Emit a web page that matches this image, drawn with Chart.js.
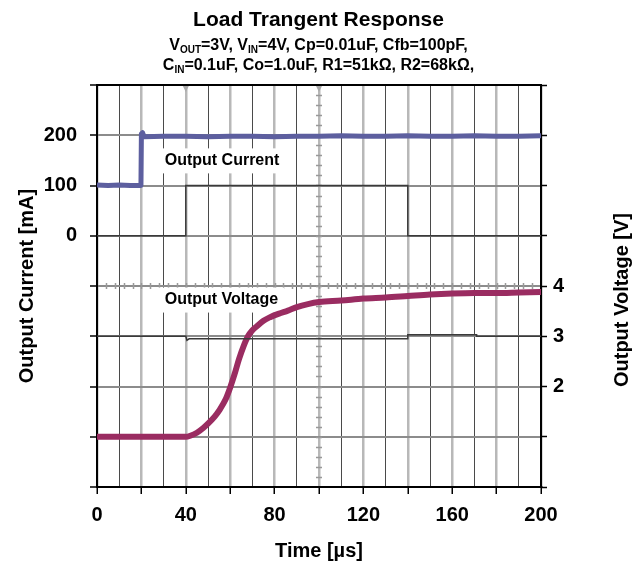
<!DOCTYPE html>
<html>
<head>
<meta charset="utf-8">
<script src="https://cdn.jsdelivr.net/npm/chart.js@4.4.1/dist/chart.umd.min.js"></script>
<style>
    html, body { margin: 0; padding: 0; background: #fff; }
    #wrap { position: relative; width: 637px; height: 567px; font-family: 'Liberation Sans', Arial, sans-serif; font-weight: bold; color: #000; }
    #chartBox { position: absolute; left: 0; top: 0; width: 637px; height: 567px; }
    .head { position: absolute; left: 0; width: 637px; text-align: center; white-space: nowrap; }
    #title { top: 7px; font-size: 21px; line-height: 24px; }
    .sub { font-size: 16px; line-height: 20px; }
    .sub span.s { font-size: 10px; position: relative; top: 3px; }
</style>
</head>
<body>
<div id="wrap">
    <div id="chartBox"><canvas id="chart"></canvas></div>
    <div id="title" class="head">Load Trangent Response</div>
    <div class="head sub" style="top:35px">V<span class="s">OUT</span>=3V, V<span class="s">IN</span>=4V, Cp=0.01uF, Cfb=100pF,</div>
    <div class="head sub" style="top:55px">C<span class="s">IN</span>=0.1uF, Co=1.0uF, R1=51kΩ, R2=68kΩ,</div>
</div>
<script>
// ============================================================
// LOAD TRANSIENT - scope capture redrawn with Chart.js
// ============================================================

// Output current trace (time in µs, current in mA)
const currentTime = [0, 5, 10, 15, 19.8, 20, 20.5, 21.2, 30, 40, 50, 60, 70, 80, 90, 100, 110, 120, 130, 140, 150, 160, 170, 180, 190, 200];
const currentMA   = [101, 100, 101, 100, 100, 203, 205, 197, 198, 198, 197, 198, 198, 197, 198, 198, 199, 198, 198, 199, 198, 198, 199, 198, 198, 199];

// Load step reference line (mA)
const stepTime = [0, 40, 40, 140, 140, 200];
const stepMA   = [0, 0, 100, 100, 0, 0];

// Output voltage trace (V)
const voltageTime = [0, 10, 20, 30, 40, 42, 45, 48, 50, 53, 55, 58, 60, 62, 64, 66, 68, 70, 72, 75, 78, 82, 86, 90, 95, 100, 110, 120, 130, 140, 150, 160, 170, 180, 190, 200];
const voltageV    = [1.0, 1.0, 1.0, 1.0, 1.0, 1.02, 1.08, 1.18, 1.26, 1.4, 1.52, 1.75, 1.98, 2.25, 2.55, 2.8, 3.0, 3.12, 3.2, 3.31, 3.38, 3.45, 3.51, 3.58, 3.64, 3.68, 3.71, 3.75, 3.77, 3.8, 3.83, 3.85, 3.86, 3.86, 3.87, 3.88];

// Second voltage reference line (V)
const refTime = [0, 40, 40.5, 41.5, 140, 140, 171, 171, 200];
const refV    = [3.0, 3.0, 2.92, 2.95, 2.95, 3.03, 3.03, 3.0, 3.0];

// Labelled ticks
const timeLabels = [0, 40, 80, 120, 160, 200];
const currentLabels = [0, 100, 200];
const voltageLabels = [2, 3, 4];

const FONT = "'Liberation Sans', Arial, sans-serif";
Chart.defaults.font.family = FONT;
Chart.defaults.font.weight = 'bold';
Chart.defaults.color = '#000';

function toPoints(xs, ys) {
    return xs.map((x, i) => ({ x: x, y: ys[i] }));
}

// Scope decorations: center graticule minor ticks, trigger marks, trace labels
const scopeDecor = {
    id: 'scopeDecor',
    beforeDatasetsDraw(chart) {
        const { ctx, chartArea: a, scales } = chart;
        const x = scales.x, v = scales.y1;
        const cy = v.getPixelForValue(4);
        const cx = x.getPixelForValue(100);
        ctx.save();
        ctx.strokeStyle = '#999';
        ctx.lineWidth = 1.5;
        ctx.beginPath();
        for (let t = 4; t < 200; t += 4) {
            const px = Math.round(x.getPixelForValue(t)) + 0.5;
            ctx.moveTo(px, cy - 3);
            ctx.lineTo(px, cy + 3);
        }
        for (let u = 0.2; u < 8; u += 0.2) {
            const py = Math.round(v.getPixelForValue(u)) + 0.5;
            ctx.moveTo(cx - 3, py);
            ctx.lineTo(cx + 3, py);
        }
        ctx.stroke();

        // trigger marks on top edge
        ctx.fillStyle = '#aaa';
        [40, 100].forEach(t => {
            const px = x.getPixelForValue(t);
            ctx.beginPath();
            ctx.moveTo(px - 3, a.top + 1);
            ctx.lineTo(px + 3, a.top + 1);
            ctx.lineTo(px, a.top + 7);
            ctx.closePath();
            ctx.fill();
        });

        // trace labels on white boxes
        ctx.font = 'bold 16px ' + FONT;
        ctx.textBaseline = 'middle';
        const boxes = [
            { text: 'Output Current', t: 30.5, val: 150, scale: scales.y },
            { text: 'Output Voltage', t: 30.5, val: 3.73, scale: v }
        ];
        boxes.forEach(b => {
            const px = x.getPixelForValue(b.t);
            const py = b.scale.getPixelForValue(b.val);
            const w = ctx.measureText(b.text).width;
            ctx.fillStyle = '#fff';
            ctx.fillRect(px - 8, py - 12, w + 14, 25);
            ctx.fillStyle = '#000';
            ctx.fillText(b.text, px, py);
        });
        ctx.restore();
    },
    afterDraw(chart) {
        // right axis title reads bottom-to-top like the left one
        const { ctx, chartArea: a } = chart;
        ctx.save();
        ctx.font = 'bold 20px ' + FONT;
        ctx.fillStyle = '#000';
        ctx.textAlign = 'center';
        ctx.textBaseline = 'middle';
        ctx.translate(622, (a.top + a.bottom) / 2 + 14);
        ctx.rotate(-Math.PI / 2);
        ctx.fillText('Output Voltage [V]', 0, 0);
        ctx.restore();
    }
};

const ctx = document.getElementById('chart').getContext('2d');
new Chart(ctx, {
    type: 'line',
    data: {
        datasets: [
            {
                label: 'Load step',
                data: toPoints(stepTime, stepMA),
                yAxisID: 'y',
                borderColor: '#3a3a3a',
                borderWidth: 1.5,
                pointRadius: 0
            },
            {
                label: 'Voltage ref',
                data: toPoints(refTime, refV),
                yAxisID: 'y1',
                borderColor: '#3a3a3a',
                borderWidth: 1.5,
                pointRadius: 0
            },
            {
                label: 'Output Current',
                data: toPoints(currentTime, currentMA),
                yAxisID: 'y',
                borderColor: '#5d5f9f',
                borderWidth: 5,
                pointRadius: 0,
                borderJoinStyle: 'round'
            },
            {
                label: 'Output Voltage',
                data: toPoints(voltageTime, voltageV),
                yAxisID: 'y1',
                borderColor: '#9a2c61',
                borderWidth: 6,
                pointRadius: 0,
                cubicInterpolationMode: 'monotone',
                borderCapStyle: 'round'
            }
        ]
    },
    options: {
        responsive: true,
        maintainAspectRatio: false,
        animation: false,
        layout: { padding: { top: 85, left: 0, right: 0, bottom: 0 } },
        plugins: {
            legend: { display: false },
            tooltip: { enabled: false }
        },
        scales: {
            x: {
                type: 'linear',
                position: 'bottom',
                min: 0,
                max: 200,
                afterFit: (s) => { s.height = 80; },
                ticks: {
                    stepSize: 10,
                    autoSkip: false,
                    maxRotation: 0,
                    padding: 9,
                    font: { size: 20, weight: 'bold' },
                    callback: (v) => timeLabels.includes(v) ? v : ''
                },
                grid: {
                    color: (c) => c.tick && c.tick.value % 20 === 0 ? '#b8b8b8' : '#4a4a4a',
                    lineWidth: (c) => c.tick && c.tick.value % 20 === 0 ? 2.5 : 1,
                    tickColor: (c) => c.tick && c.tick.value % 20 === 0 ? '#000' : 'rgba(0,0,0,0)',
                    tickLength: 7,
                    tickWidth: 1.5
                },
                border: { display: true, color: '#000', width: 2 },
                title: {
                    display: true,
                    text: 'Time [µs]',
                    font: { size: 20, weight: 'bold' },
                    padding: { top: 0, bottom: 4 }
                }
            },
            y: {
                type: 'linear',
                position: 'left',
                min: -500,
                max: 300,
                afterFit: (s) => { s.width = 97; },
                ticks: {
                    stepSize: 100,
                    padding: 13,
                    font: { size: 20, weight: 'bold' },
                    callback: (v) => currentLabels.includes(v) ? v : ''
                },
                grid: {
                    color: (c) => c.tick && (c.tick.value === 300 || c.tick.value === -500) ? '#000' : '#8c8c8c',
                    lineWidth: 2,
                    tickColor: '#000',
                    tickLength: 7,
                    tickWidth: 1.5
                },
                border: { display: true, color: '#000', width: 2 },
                title: {
                    display: true,
                    text: 'Output Current [mA]',
                    font: { size: 20, weight: 'bold' },
                    padding: { top: 15, bottom: 0 }
                }
            },
            y1: {
                type: 'linear',
                position: 'right',
                min: 0,
                max: 8,
                afterFit: (s) => { s.width = 96; },
                ticks: {
                    stepSize: 1,
                    padding: 6,
                    font: { size: 20, weight: 'bold' },
                    callback: (v) => voltageLabels.includes(v) ? v : ''
                },
                grid: {
                    drawOnChartArea: false,
                    tickColor: '#000',
                    tickLength: 6,
                    tickWidth: 1.5
                },
                border: { display: true, color: '#000', width: 2 }
            }
        }
    },
    plugins: [scopeDecor]
});
</script>
</body>
</html>
